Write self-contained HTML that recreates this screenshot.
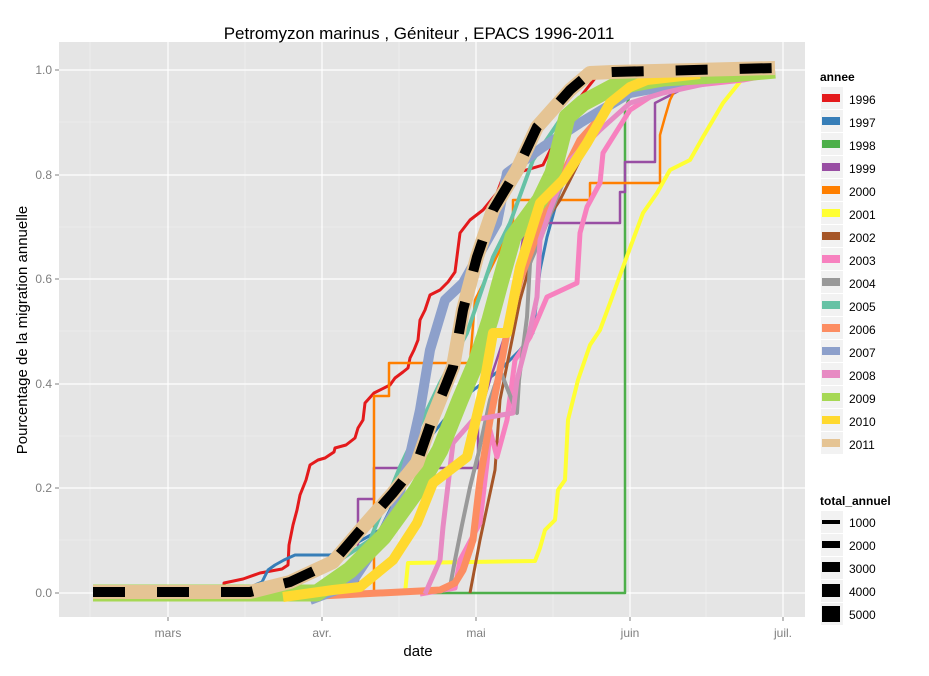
<!DOCTYPE html>
<html><head><meta charset="utf-8"><style>
body{margin:0;background:#fff;font-family:"Liberation Sans",sans-serif}
</style></head><body>
<svg width="929" height="671" xmlns="http://www.w3.org/2000/svg" font-family="Liberation Sans, sans-serif">
<rect width="929" height="671" fill="#fff"/>
<rect x="59" y="42" width="746" height="575" fill="#E5E5E5"/>
<g stroke="#F2F2F2" stroke-width="0.6">
<line x1="59" x2="805" y1="122" y2="122"/><line x1="59" x2="805" y1="227" y2="227"/><line x1="59" x2="805" y1="331" y2="331"/><line x1="59" x2="805" y1="436" y2="436"/><line x1="59" x2="805" y1="540" y2="540"/>
<line y1="42" y2="617" x1="90" x2="90"/><line y1="42" y2="617" x1="245" x2="245"/><line y1="42" y2="617" x1="399" x2="399"/><line y1="42" y2="617" x1="553" x2="553"/><line y1="42" y2="617" x1="706" x2="706"/>
</g>
<g stroke="#fff" stroke-width="1.2">
<line x1="59" x2="805" y1="70" y2="70"/><line x1="59" x2="805" y1="175" y2="175"/><line x1="59" x2="805" y1="279" y2="279"/><line x1="59" x2="805" y1="384" y2="384"/><line x1="59" x2="805" y1="488" y2="488"/><line x1="59" x2="805" y1="593" y2="593"/>
<line y1="42" y2="617" x1="168" x2="168"/><line y1="42" y2="617" x1="322" x2="322"/><line y1="42" y2="617" x1="476" x2="476"/><line y1="42" y2="617" x1="630" x2="630"/><line y1="42" y2="617" x1="783" x2="783"/>
</g>
<g fill="none" stroke-linejoin="round">
<!-- 1996 -->
<polyline stroke="#E41A1C" stroke-width="3" points="224,597 224,583 243,579 260,573 282,569 288,565 289,545 293,525 297,510 300,495 306,480 310,465 318,460 325,458 334,452 335,448 346,445 355,438 358,428 363,420 365,403 374,393 390,385 395,378 403,372 408,368 410,358 414,350 418,340 420,320 425,310 430,295 440,290 448,282 455,272 460,233 470,220 483,210 497,193 503,177 543,165 570,110 600,72 775,70"/>
<!-- 1997 -->
<polyline stroke="#377EB8" stroke-width="3" points="253,593 255,585 262,582 268,570 275,565 284,560 295,555 330,555 340,552 380,530 420,450 460,400 500,370 520,350 533,333 540,270 547,237 560,190 580,140 610,105 650,85 720,75"/>
<!-- 1998 -->
<polyline stroke="#4DAF4A" stroke-width="2.5" points="300,593 625,593 625,110 630,95 680,75 775,72"/>
<!-- 1999 -->
<polyline stroke="#984EA3" stroke-width="2.5" points="300,593 358,593 358,499 374,499 374,468 478,468 478,420 490,380 510,320 520,260 525,223 620,223 620,192 625,192 625,162 655,162 655,103 700,80 775,72"/>
<!-- 2000 -->
<polyline stroke="#FF7F00" stroke-width="2.5" points="330,593 374,593 374,497 374,396 389,396 389,363 470,363 475,300 490,270 500,250 513,223 513,200 590,200 590,183 660,183 660,135 665,117 670,100 680,80 775,70"/>
<!-- 2001 -->
<polyline stroke="#FFFF33" stroke-width="4" points="300,593 405,593 408,563 535,561 540,548 545,530 555,520 558,490 565,480 568,420 578,380 590,345 600,330 610,303 623,267 643,213 657,193 670,170 690,160 703,137 723,103 743,78 748,72"/>
<!-- 2002 -->
<polyline stroke="#A65628" stroke-width="3" points="470,593 480,540 495,470 500,400 510,350 520,300 540,230 560,200 590,140 610,100 650,80"/>
<!-- 2003 -->
<polyline stroke="#F781BF" stroke-width="5" points="420,594 455,588 460,560 467,547 480,523 487,463 490,430 497,457 507,420 515,360 525,345 530,337 547,297 577,283 580,233 587,207 600,183 603,153 630,110 650,97 680,87 743,80 770,75"/>
<!-- 2004 -->
<polyline stroke="#999999" stroke-width="4" points="440,592 450,587 455,560 462,525 470,487 478,455 490,400 500,370 517,413 519,380 527,317 530,263 540,240 560,190 583,137 610,100 650,82"/>
<!-- 2005 -->
<polyline stroke="#66C2A5" stroke-width="4" points="340,560 370,540 400,467 440,383 467,333 493,257 510,223 533,160 560,120 600,95"/>
<!-- 2006 -->
<polyline stroke="#FC8D62" stroke-width="7" points="320,596 440,590 455,583 463,570 473,540 480,480 490,420 500,370 507,333 520,280 535,240 555,190 580,140 620,95"/>
<!-- 2007 -->
<polyline stroke="#8DA0CB" stroke-width="10" points="310,600 350,585 370,555 395,510 410,455 420,410 430,350 445,300 463,283 497,223 507,173 543,147 580,123 630,93 663,87 700,80"/>
<!-- 2008 -->
<polyline stroke="#E78AC3" stroke-width="5" points="425,594 440,560 443,527 453,443 473,420 513,413 517,380 530,330 537,297 540,240 550,210 570,160 600,130 630,103 663,93 713,82 740,78"/>
<!-- 2009 -->
<polyline stroke="#A6D854" stroke-width="17" points="93,593 300,593 317,593 350,570 383,537 417,490 440,450 460,400 477,360 490,320 500,283 513,237 540,200 553,173 567,117 583,103 613,87 663,78 730,74 775,70"/>
<!-- 2010 -->
<polyline stroke="#FFD92F" stroke-width="10" points="283,597 333,590 360,587 393,560 417,523 433,483 467,457 483,390 493,333 507,333 520,267 540,203 563,180 587,143 610,103 630,87 647,80 700,74"/>
<!-- 2011 -->
<polyline stroke="#E5C494" stroke-width="14" points="93,592 250,592 290,582 333,562 363,527 393,493 417,463 433,417 453,367 463,310 477,257 493,210 517,170 537,127 570,90 590,73 613,72 775,68"/>
<polyline stroke="#000" stroke-width="10" stroke-linejoin="miter" stroke-dasharray="32 32" points="93,592 250,592 290,582 333,562 363,527 393,493 417,463 433,417 453,367 463,310 477,257 493,210 517,170 537,127 570,90 590,73 613,72 775,68"/>
</g>
<g fill="#7F7F7F" font-size="12" text-anchor="end">
<text x="52" y="74">1.0</text><text x="52" y="179">0.8</text><text x="52" y="283">0.6</text><text x="52" y="388">0.4</text><text x="52" y="492">0.2</text><text x="52" y="597">0.0</text>
</g>
<g stroke="#7F7F7F"><line x1="55" x2="59" y1="70" y2="70"/><line x1="55" x2="59" y1="175" y2="175"/><line x1="55" x2="59" y1="279" y2="279"/><line x1="55" x2="59" y1="384" y2="384"/><line x1="55" x2="59" y1="488" y2="488"/><line x1="55" x2="59" y1="593" y2="593"/>
<line y1="617" y2="621" x1="168" x2="168"/><line y1="617" y2="621" x1="322" x2="322"/><line y1="617" y2="621" x1="476" x2="476"/><line y1="617" y2="621" x1="630" x2="630"/><line y1="617" y2="621" x1="783" x2="783"/></g>
<g fill="#7F7F7F" font-size="12" text-anchor="middle">
<text x="168" y="637">mars</text><text x="322" y="637">avr.</text><text x="476" y="637">mai</text><text x="630" y="637">juin</text><text x="783" y="637">juil.</text>
</g>
<text x="418" y="656" font-size="15" text-anchor="middle">date</text>
<text transform="translate(27,330) rotate(-90)" font-size="15" text-anchor="middle">Pourcentage de la migration annuelle</text>
<text x="419" y="39" font-size="17" text-anchor="middle">Petromyzon marinus , Géniteur , EPACS 1996-2011</text>
<text x="820" y="81" font-size="12" font-weight="bold">annee</text>
<g font-size="12">
<rect x="821" y="87" width="22" height="22" fill="#F2F2F2"/><rect x="822" y="94" width="18" height="8" fill="#E41A1C"/><text x="849" y="104">1996</text>
<rect x="821" y="110" width="22" height="22" fill="#F2F2F2"/><rect x="822" y="117" width="18" height="8" fill="#377EB8"/><text x="849" y="127">1997</text>
<rect x="821" y="133" width="22" height="22" fill="#F2F2F2"/><rect x="822" y="140" width="18" height="8" fill="#4DAF4A"/><text x="849" y="150">1998</text>
<rect x="821" y="156" width="22" height="22" fill="#F2F2F2"/><rect x="822" y="163" width="18" height="8" fill="#984EA3"/><text x="849" y="173">1999</text>
<rect x="821" y="179" width="22" height="22" fill="#F2F2F2"/><rect x="822" y="186" width="18" height="8" fill="#FF7F00"/><text x="849" y="196">2000</text>
<rect x="821" y="202" width="22" height="22" fill="#F2F2F2"/><rect x="822" y="209" width="18" height="8" fill="#FFFF33"/><text x="849" y="219">2001</text>
<rect x="821" y="225" width="22" height="22" fill="#F2F2F2"/><rect x="822" y="232" width="18" height="8" fill="#A65628"/><text x="849" y="242">2002</text>
<rect x="821" y="248" width="22" height="22" fill="#F2F2F2"/><rect x="822" y="255" width="18" height="8" fill="#F781BF"/><text x="849" y="265">2003</text>
<rect x="821" y="271" width="22" height="22" fill="#F2F2F2"/><rect x="822" y="278" width="18" height="8" fill="#999999"/><text x="849" y="288">2004</text>
<rect x="821" y="294" width="22" height="22" fill="#F2F2F2"/><rect x="822" y="301" width="18" height="8" fill="#66C2A5"/><text x="849" y="311">2005</text>
<rect x="821" y="317" width="22" height="22" fill="#F2F2F2"/><rect x="822" y="324" width="18" height="8" fill="#FC8D62"/><text x="849" y="334">2006</text>
<rect x="821" y="340" width="22" height="22" fill="#F2F2F2"/><rect x="822" y="347" width="18" height="8" fill="#8DA0CB"/><text x="849" y="357">2007</text>
<rect x="821" y="363" width="22" height="22" fill="#F2F2F2"/><rect x="822" y="370" width="18" height="8" fill="#E78AC3"/><text x="849" y="380">2008</text>
<rect x="821" y="386" width="22" height="22" fill="#F2F2F2"/><rect x="822" y="393" width="18" height="8" fill="#A6D854"/><text x="849" y="403">2009</text>
<rect x="821" y="409" width="22" height="22" fill="#F2F2F2"/><rect x="822" y="416" width="18" height="8" fill="#FFD92F"/><text x="849" y="426">2010</text>
<rect x="821" y="432" width="22" height="22" fill="#F2F2F2"/><rect x="822" y="439" width="18" height="8" fill="#E5C494"/><text x="849" y="449">2011</text>
</g>
<text x="820" y="505" font-size="12" font-weight="bold">total_annuel</text>
<g font-size="12">
<rect x="821" y="511" width="22" height="22" fill="#F2F2F2"/><rect x="822" y="520" width="18" height="4" fill="#000"/><text x="849" y="527">1000</text>
<rect x="821" y="534" width="22" height="22" fill="#F2F2F2"/><rect x="822" y="541" width="18" height="7" fill="#000"/><text x="849" y="550">2000</text>
<rect x="821" y="557" width="22" height="22" fill="#F2F2F2"/><rect x="822" y="562" width="18" height="10" fill="#000"/><text x="849" y="573">3000</text>
<rect x="821" y="580" width="22" height="22" fill="#F2F2F2"/><rect x="822" y="584" width="18" height="13" fill="#000"/><text x="849" y="596">4000</text>
<rect x="821" y="603" width="22" height="22" fill="#F2F2F2"/><rect x="822" y="606" width="18" height="16" fill="#000"/><text x="849" y="619">5000</text>
</g>
</svg>
</body></html>
